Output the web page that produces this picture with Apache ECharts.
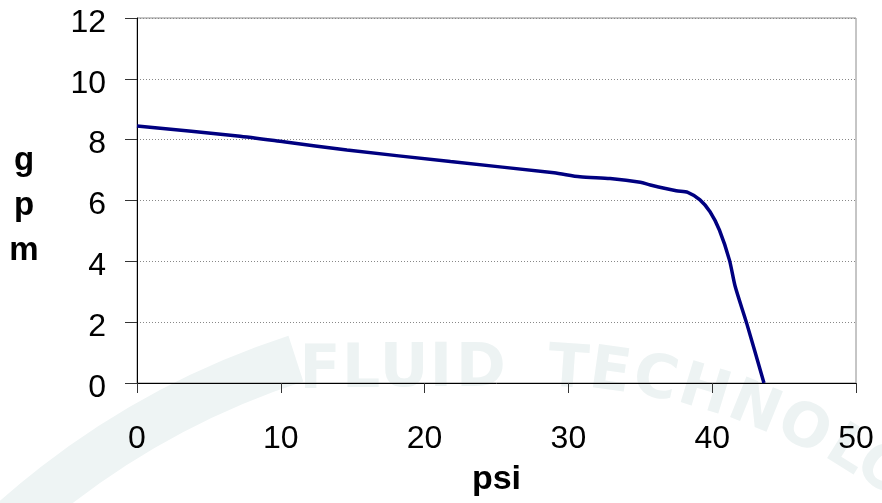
<!DOCTYPE html>
<html>
<head>
<meta charset="utf-8">
<script src="https://cdn.jsdelivr.net/npm/echarts@6/dist/echarts.min.js"></script>
<style>html,body{margin:0;padding:0;background:#fff;}#c{width:882px;height:503px;}</style>
</head>
<body>
<div id="c"></div>
<script>
var psi = [0, 7, 10.2, 14.6, 21.8, 29, 30.8, 32.9, 35, 35.7, 37.5, 38.3, 39.15, 39.85, 40.5, 41.2, 41.6, 42.4, 43.6];
var gpm = [8.45, 8.12, 7.93, 7.66, 7.28, 6.91, 6.78, 6.72, 6.6, 6.51, 6.32, 6.27, 6.02, 5.63, 5.03, 4.04, 3.17, 1.96, 0];
var xTicks = [0, 10, 20, 30, 40, 50];
var yTicks = [0, 2, 4, 6, 8, 10, 12];
var xTitle = 'psi';
var yTitle = 'g\np\nm';
var watermark = 'FLUID TECHNOLO';

var pts = psi.map(function (x, i) { return [x, gpm[i]]; });

var wmPos = [[320,372,0],[361,371,0],[404,370,0],[441,370,0],[481,370,0],[0,0,0],[568,371,-4],[610,374,-8],[655,381,-12],[704,393,-17],[754,410,-22],[803,430,-27],[847,452,-32],[882,472,-36]];
var wmEls = [];
for (var i = 0; i < watermark.length; i++) {
  var ch = watermark[i];
  if (ch === ' ') continue;
  var p = wmPos[i];
  wmEls.push({
    type: 'text', x: p[0], y: p[1], rotation: p[2] * Math.PI / 180, z: -10, silent: true,
    style: { text: ch, font: 'bold 60px "DejaVu Sans"', fill: '#edf3f3', textAlign: 'center', textVerticalAlign: 'middle' }
  });
}
wmEls.push({
  type: 'arc', z: -11, silent: true,
  shape: { cx: 540, cy: 1110, r: 790, startAngle: Math.PI * 1.18, endAngle: Math.PI * 1.40 },
  style: { stroke: '#eef4f4', lineWidth: 48, fill: null }
});
wmEls.push({
  type: 'text', x: 24, y: 206, z: 10,
  style: { text: yTitle, font: 'bold 33px "Liberation Sans"', fill: '#000', textAlign: 'center', textVerticalAlign: 'middle', lineHeight: 45 }
});

var chart = echarts.init(document.getElementById('c'), null, { renderer: 'canvas' });
chart.setOption({
  animation: false,
  backgroundColor: '#ffffff',
  graphic: wmEls,
  grid: { left: 137, right: 26, top: 18, bottom: 120, show: true, borderColor: '#8c8c8c', borderWidth: 1, backgroundColor: 'transparent' },
  xAxis: {
    type: 'value', min: xTicks[0], max: xTicks[xTicks.length - 1], interval: 10,
    name: xTitle, nameLocation: 'middle', nameGap: 80, nameMoveOverlap: false,
    nameTextStyle: { fontFamily: 'Liberation Sans', fontWeight: 'bold', fontSize: 34, color: '#000' },
    axisLine: { show: true, lineStyle: { color: '#000', width: 1 } },
    axisTick: { show: true, inside: false, length: 10, lineStyle: { color: '#333' } },
    axisLabel: { margin: 40, fontFamily: 'Liberation Sans', fontSize: 32, color: '#000' },
    splitLine: { show: false }
  },
  yAxis: {
    type: 'value', min: yTicks[0], max: yTicks[yTicks.length - 1], interval: 2,
    axisLine: { show: true, lineStyle: { color: '#000', width: 1 } },
    axisTick: { show: true, inside: false, length: 12, lineStyle: { color: '#333' } },
    axisLabel: {
      margin: 31, formatter: '{v|{value}}',
      rich: { v: { fontFamily: 'Liberation Sans', fontSize: 32, color: '#000', lineHeight: 42, verticalAlign: 'bottom' } }
    },
    splitLine: { show: true, lineStyle: { color: '#888', type: [1, 2], width: 1 } }
  },
  series: [{
    type: 'line', data: pts, smooth: 0.25, showSymbol: false, symbol: 'none',
    lineStyle: { color: '#000080', width: 3.5 }, z: 5
  }]
});
</script>
</body>
</html>
